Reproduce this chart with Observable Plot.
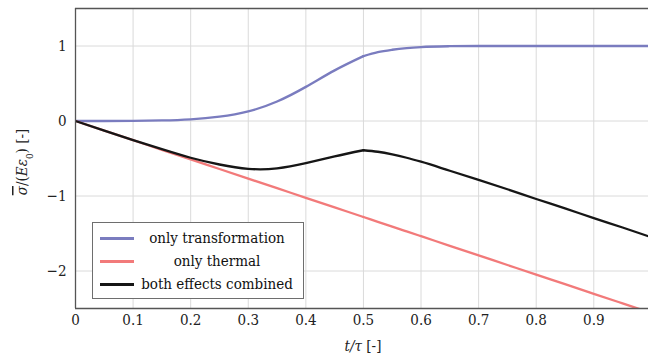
<!DOCTYPE html>
<html><head><meta charset="utf-8">
<script src="https://cdn.jsdelivr.net/npm/d3@7"></script>
<script src="https://cdn.jsdelivr.net/npm/@observablehq/plot@0.6"></script>
<style>
body{margin:0;background:#fff;}
#wrap{position:relative;width:648px;height:360px;overflow:hidden;}
.legend{position:absolute;left:92px;top:222px;width:212px;height:77px;border:1px solid #6e6e6e;background:#fff;font-family:"DejaVu Serif Condensed","DejaVu Serif",serif;font-stretch:condensed;font-size:15px;box-sizing:border-box;color:#111;}
.row{position:absolute;left:0;width:100%;height:22px;line-height:22px;}
.sw{position:absolute;left:7px;top:10px;width:34px;height:2.5px;}
.lab{position:absolute;left:42px;right:4px;text-align:center;white-space:nowrap;}
</style></head><body><div id="wrap"></div>
<script>
const t = [0,0.05,0.1,0.15,0.2,0.25,0.3,0.35,0.4,0.45,0.5,0.525,0.55,0.575,0.6,0.65,0.7,0.75,0.8,0.85,0.9,0.95,1.0];
const onlyTransformation = [0,0,0.002,0.008,0.023,0.058,0.128,0.26,0.455,0.675,0.865,0.918,0.95,0.972,0.986,0.997,1,1,1,1,1,1,1];
const onlyThermal = [0,-0.128,-0.256,-0.384,-0.512,-0.64,-0.768,-0.896,-1.024,-1.152,-1.28,-1.344,-1.408,-1.472,-1.536,-1.664,-1.792,-1.92,-2.048,-2.176,-2.304,-2.432,-2.56];
const bothCombined = [0,-0.128,-0.254,-0.376,-0.49,-0.58,-0.638,-0.632,-0.563,-0.472,-0.39,-0.41,-0.445,-0.49,-0.543,-0.663,-0.785,-0.91,-1.04,-1.165,-1.295,-1.42,-1.55];
const seriesNames = ["only transformation","only thermal","both effects combined"];
const seriesColors = ["#7a7cbf","#f27a7a","#161616"];
const xTicks = [0,0.1,0.2,0.3,0.4,0.5,0.6,0.7,0.8,0.9];
const yTicks = [-2,-1,0,1];

// each series is drawn in two pieces joined at t = 0.5, where the curves have a kink
const seriesValues = [onlyTransformation, onlyThermal, bothCombined];
const rows = seriesNames.flatMap((name,i) => t.map((x,j) => ({t:x, v:seriesValues[i][j], s:name})));
const before = rows.filter(d => d.t <= 0.5);
const after = rows.filter(d => d.t >= 0.5);

const fmt = d => d === 0 ? "0" : d3.format("")(d).replace("-","\u2212");
const FONT = "'DejaVu Serif Condensed', 'DejaVu Serif', serif";
const lineOpts = {x: "t", y: "v", z: "s", stroke: "s", strokeWidth: 2.3, strokeLinejoin: "round", strokeLinecap: "round", clip: true};

const chart = Plot.plot({
  width: 648, height: 360,
  marginLeft: 75, marginRight: 0, marginTop: 8, marginBottom: 52,
  style: {fontFamily: FONT, fontStretch: "condensed", fontSize: "15px", color: "#222", background: "#fff"},
  x: {domain: [0,0.995], ticks: xTicks, tickFormat: fmt, label: null, tickSize: 0, tickPadding: 6},
  y: {domain: [-2.5,1.5], ticks: yTicks, tickFormat: fmt, label: null, tickSize: 0, tickPadding: 9},
  color: {domain: seriesNames, range: seriesColors},
  marks: [
    Plot.gridX(xTicks, {stroke: "#dadada", strokeOpacity: 1, strokeWidth: 1}),
    Plot.gridY(yTicks, {stroke: "#dadada", strokeOpacity: 1, strokeWidth: 1}),
    Plot.lineY(before, {...lineOpts, curve: "natural"}),
    Plot.lineY(after, {...lineOpts, curve: "monotone-x"}),
    Plot.ruleX([0], {stroke: "#555", strokeWidth: 1.3}),
    Plot.ruleY([-2.5, 1.5], {stroke: "#555", strokeWidth: 1.3})
  ]
});
const wrap = document.getElementById("wrap");
wrap.appendChild(chart);

const svg = d3.select(chart);
const yl = svg.append("text")
  .attr("transform", "translate(27,162) rotate(-90)")
  .attr("text-anchor", "middle")
  .attr("fill", "#222")
  .style("font-family", FONT).style("font-stretch","condensed").style("font-size", "15px");
yl.append("tspan").text("σ").style("font-style","italic").style("text-decoration","overline");
yl.append("tspan").text("/(");
yl.append("tspan").text("Eε").style("font-style","italic");
yl.append("tspan").text("0").attr("baseline-shift","sub").style("font-size","10px");
yl.append("tspan").text(") [-]");
const xl = svg.append("text")
  .attr("x", 363).attr("y", 351)
  .attr("text-anchor", "middle")
  .attr("fill", "#222")
  .style("font-family", FONT).style("font-stretch","condensed").style("font-size", "15px");
xl.append("tspan").text("t/τ").style("font-style","italic");
xl.append("tspan").text(" [-]");

const lg = document.createElement("div");
lg.className = "legend";
seriesNames.forEach((n,i) => {
  const r = document.createElement("div");
  r.className = "row";
  r.style.top = (4 + i*23) + "px";
  const sw = document.createElement("div");
  sw.className = "sw"; sw.style.background = seriesColors[i];
  const lb = document.createElement("div");
  lb.className = "lab"; lb.textContent = n;
  r.appendChild(sw); r.appendChild(lb);
  lg.appendChild(r);
});
wrap.appendChild(lg);
</script>
</body></html>
